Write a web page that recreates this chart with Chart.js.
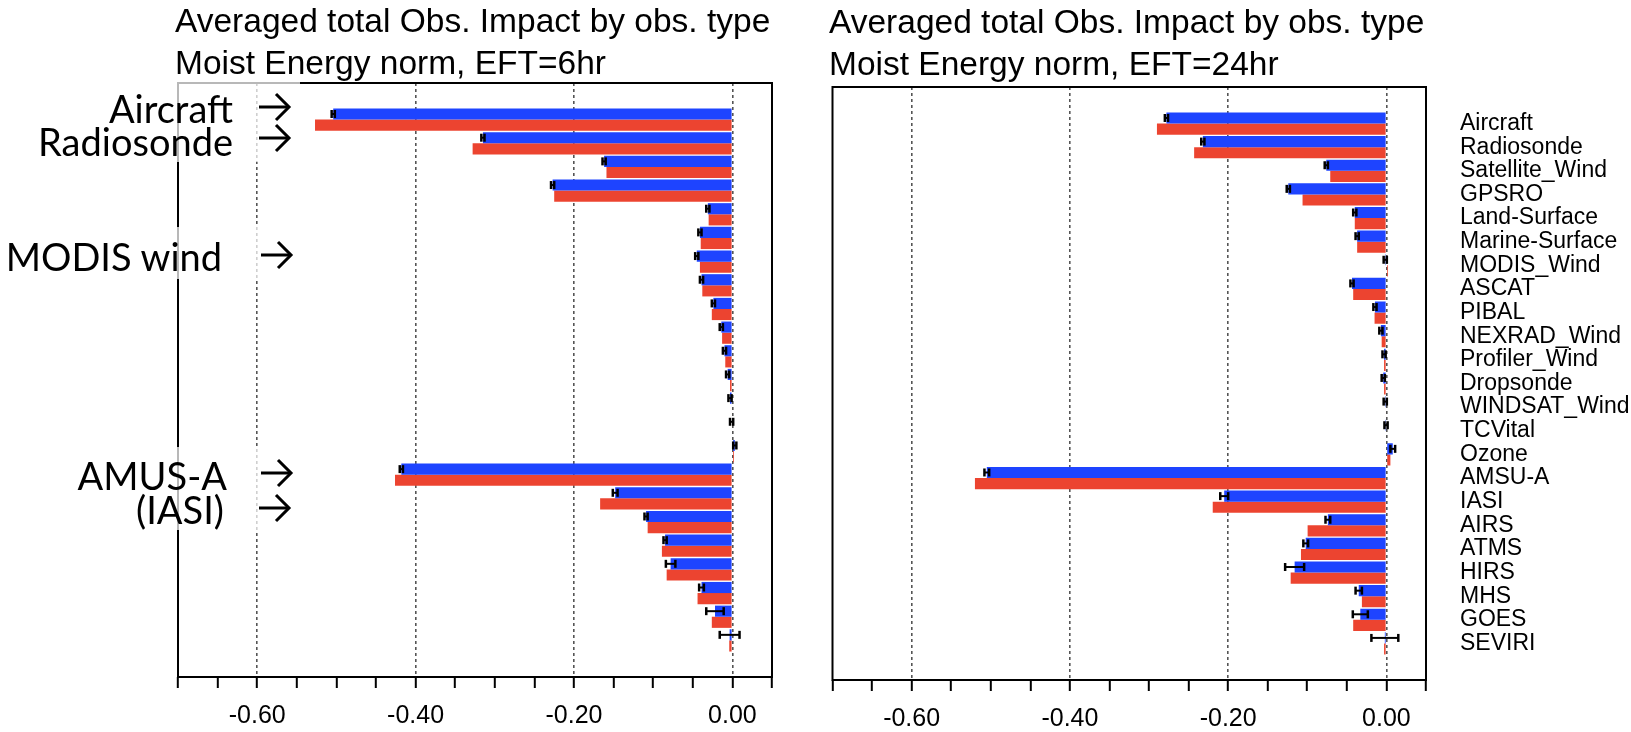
<!DOCTYPE html>
<html>
<head>
<meta charset="utf-8">
<script src="https://cdn.jsdelivr.net/npm/chart.js@4.4.1/dist/chart.umd.min.js"></script>
<style>
html,body{margin:0;padding:0;background:#fff;}
body{width:1631px;height:732px;position:relative;overflow:hidden;}
canvas{position:absolute;top:0;}
#c1{left:0;}
#c2{left:800px;}
.title{position:absolute;font-family:"Liberation Sans",Arial,Helvetica,sans-serif;font-size:33.5px;line-height:42px;color:#000;white-space:nowrap;}
.mask{position:absolute;background:rgba(255,255,255,0.72);}
.ann{position:absolute;font-family:Lato,"Open Sans",sans-serif;font-size:38px;line-height:38px;color:#000;white-space:nowrap;text-align:right;}
svg.arrows{position:absolute;left:0;top:0;}
</style>
</head>
<body>
<canvas id="c1" width="800" height="732"></canvas>
<canvas id="c2" width="831" height="732"></canvas>

<div class="title" style="left:175px;top:0px;">Averaged total Obs. Impact by obs. type<br>Moist Energy norm, EFT=6hr</div>
<div class="title" style="left:829px;top:1px;">Averaged total Obs. Impact by obs. type<br>Moist Energy norm, EFT=24hr</div>

<div class="mask" style="left:20px;top:80px;width:280px;height:82px;"></div>
<div class="mask" style="left:0px;top:227px;width:300px;height:52px;"></div>
<div class="mask" style="left:60px;top:447px;width:240px;height:83px;"></div>

<div class="ann" style="right:1398px;top:89px;">Aircraft</div>
<div class="ann" style="right:1398px;top:122px;">Radiosonde</div>
<div class="ann" style="right:1409px;top:237px;">MODIS wind</div>
<div class="ann" style="right:1404px;top:456px;">AMUS-A</div>
<div class="ann" style="right:1407px;top:490px;">(IASI)</div>

<svg class="arrows" width="320" height="732" aria-label="arrows">
  <g fill="none" stroke="#000" stroke-width="3" stroke-linecap="butt" stroke-linejoin="miter">
    <g transform="translate(259,107)"><path d="M0 0 H30"/><path d="M17 -13 L30 0 L17 13"/></g>
    <g transform="translate(259,138)"><path d="M0 0 H30"/><path d="M17 -13 L30 0 L17 13"/></g>
    <g transform="translate(261,255)"><path d="M0 0 H30"/><path d="M17 -13 L30 0 L17 13"/></g>
    <g transform="translate(261,473)"><path d="M0 0 H30"/><path d="M17 -13 L30 0 L17 13"/></g>
    <g transform="translate(259,508)"><path d="M0 0 H30"/><path d="M17 -13 L30 0 L17 13"/></g>
  </g>
</svg>

<script>
const categories = ['Aircraft','Radiosonde','Satellite_Wind','GPSRO','Land-Surface','Marine-Surface','MODIS_Wind','ASCAT','PIBAL','NEXRAD_Wind','Profiler_Wind','Dropsonde','WINDSAT_Wind','TCVital','Ozone','AMSU-A','IASI','AIRS','ATMS','HIRS','MHS','GOES','SEVIRI'];

const eft6Blue = [-0.504,-0.315,-0.162,-0.227,-0.031,-0.041,-0.045,-0.039,-0.024,-0.014,-0.010,-0.006,-0.003,-0.001,0.003,-0.418,-0.148,-0.109,-0.085,-0.078,-0.039,-0.022,-0.0035];
const eft6Red  = [-0.527,-0.328,-0.159,-0.225,-0.030,-0.040,-0.041,-0.038,-0.026,-0.013,-0.009,-0.003,-0.001,0.000,0.002,-0.426,-0.167,-0.107,-0.089,-0.083,-0.044,-0.026,-0.004];
const eft6Err  = [0.002,0.002,0.002,0.002,0.002,0.002,0.002,0.002,0.002,0.002,0.002,0.002,0.002,0.002,0.002,0.002,0.003,0.002,0.002,0.006,0.003,0.011,0.0125];

const eft24Blue = [-0.278,-0.232,-0.076,-0.124,-0.040,-0.037,-0.0015,-0.0435,-0.0145,-0.007,-0.003,-0.004,-0.0015,-0.0005,0.008,-0.505,-0.205,-0.074,-0.102,-0.116,-0.035,-0.033,-0.002];
const eft24Red  = [-0.290,-0.243,-0.071,-0.106,-0.040,-0.037,0.002,-0.042,-0.015,-0.006,-0.003,-0.003,-0.001,0.000,0.005,-0.520,-0.2195,-0.0996,-0.108,-0.121,-0.031,-0.042,-0.003];
const eft24Err  = [0.002,0.002,0.002,0.002,0.002,0.002,0.002,0.002,0.002,0.002,0.002,0.002,0.002,0.002,0.003,0.003,0.005,0.003,0.003,0.012,0.004,0.0095,0.017];

const xTickValues = [-0.6,-0.4,-0.2,0];
const xTickLabels = ['-0.60','-0.40','-0.20','0.00'];
const xMin = -0.70, xMax = 0.05, xMinorStep = 0.05;

const BLUE = '#1E44FF', RED = '#EC4430';

function toPoints(vals){ return vals.map((v,i)=>({x:v, y:i+1})); }
function majorIndex(v){ return xTickValues.findIndex(t=>Math.abs(t-v)<1e-9); }

const framePlugin = {
  id:'frame',
  afterDatasetsDraw(chart, args, opts){
    const ctx = chart.ctx, xs = chart.scales.x;
    const meta = chart.getDatasetMeta(0);
    const vals = chart.data.datasets[0].data;
    ctx.save();
    ctx.strokeStyle = '#000';
    meta.data.forEach((bar,i)=>{
      const v = vals[i].x, e = opts.err[i];
      const x1 = xs.getPixelForValue(v-e), x2 = xs.getPixelForValue(v+e);
      const y = bar.y;
      ctx.lineWidth = 2;
      ctx.beginPath(); ctx.moveTo(x1,y); ctx.lineTo(x2,y); ctx.stroke();
      ctx.lineWidth = 2.5;
      [x1,x2].forEach(x=>{ ctx.beginPath(); ctx.moveTo(x,y-4); ctx.lineTo(x,y+4); ctx.stroke(); });
    });
    const a = chart.chartArea;
    ctx.lineWidth = 2;
    ctx.strokeRect(a.left, a.top, a.right-a.left, a.bottom-a.top);
    ctx.restore();
  }
};

function panel(id, blue, red, err, o){
  return new Chart(document.getElementById(id), {
    type:'bar',
    data:{ datasets:[
      {label:'blue', data:toPoints(blue), backgroundColor:BLUE, borderWidth:0, categoryPercentage:0.94, barPercentage:1.0},
      {label:'red',  data:toPoints(red),  backgroundColor:RED,  borderWidth:0, categoryPercentage:0.94, barPercentage:1.0}
    ]},
    options:{
      responsive:false, animation:false, indexAxis:'y',
      layout:{ padding:{ left:o.left, top:o.top, right:o.right, bottom:0 } },
      plugins:{ legend:{display:false}, tooltip:{enabled:false}, frame:{err:err} },
      scales:{
        x:{
          type:'linear', position:'bottom', min:xMin, max:xMax,
          afterFit(s){ s.height = o.xh; },
          afterBuildTicks(s){
            const n = Math.round((xMax-xMin)/xMinorStep);
            const t = [];
            for(let k=0;k<=n;k++) t.push({value: Math.round((xMin + k*xMinorStep)*1000)/1000});
            s.ticks = t;
          },
          ticks:{
            autoSkip:false, maxRotation:0, padding:13, color:'#000',
            font:{family:'"Liberation Sans", Arial, sans-serif', size:25, lineHeight:1.2},
            callback:(v)=>{ const k = majorIndex(v); return k>=0 ? xTickLabels[k] : ''; }
          },
          grid:{
            display:true, drawOnChartArea:true, drawTicks:true,
            tickLength:11, tickWidth:2, tickColor:'#000', tickBorderDash:[],
            lineWidth:1.6,
            color:(c)=>{ const v = c.tick ? c.tick.value : null; return (v!==null && majorIndex(v)>=0) ? '#555' : 'rgba(0,0,0,0)'; }
          },
          border:{display:false, dash:[3,3]}
        },
        y:{
          type:'linear', position:'right', min:0, max:24, reverse:true,
          display:o.showLabels,
          afterFit(s){ s.width = o.yw; },
          afterBuildTicks(s){ s.ticks = categories.map((c,i)=>({value:i+1})); },
          ticks:{
            autoSkip:false, padding:26, color:'#000',
            font:{family:'"Liberation Sans", Arial, sans-serif', size:23, lineHeight:1.0},
            callback:(v)=> (v>=1 && v<=categories.length) ? categories[v-1] : ''
          },
          grid:{display:false},
          border:{display:false}
        }
      }
    },
    plugins:[framePlugin]
  });
}

panel('c1', eft6Blue, eft6Red, eft6Err, {left:178, top:83, right:28, xh:55, showLabels:false, yw:0});
panel('c2', eft24Blue, eft24Red, eft24Err, {left:32.5, top:87, right:0, xh:52, showLabels:true, yw:205});
</script>
</body>
</html>
